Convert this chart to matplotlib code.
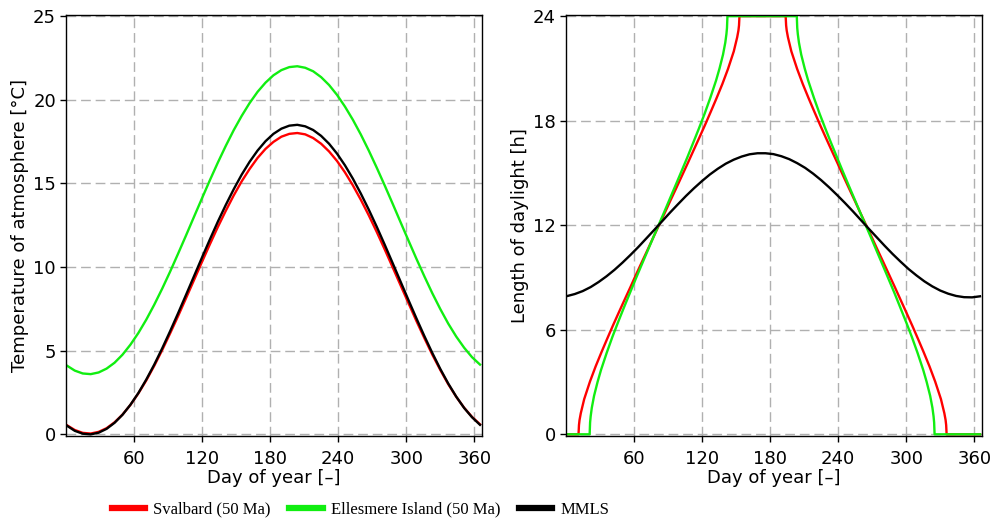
import matplotlib
matplotlib.use("Agg")
import matplotlib.pyplot as plt

# day of year for the temperature curves and the MMLS daylight curve
days = [1, 8, 15, 22, 29, 36, 43, 50, 57, 64, 71, 78, 85, 92, 99, 106, 113,
        120, 127, 134, 141, 148, 155, 162, 169, 176, 183, 190, 197, 204, 211,
        218, 225, 232, 239, 246, 253, 260, 267, 274, 281, 288, 295, 302, 309,
        316, 323, 330, 337, 344, 351, 358, 365]

# temperature of atmosphere [degC]
temp_svalbard = [0.55, 0.26, 0.09, 0.05, 0.15, 0.37, 0.72, 1.18, 1.76, 2.45,
                 3.23, 4.10, 5.04, 6.04, 7.07, 8.14, 9.22, 10.30, 11.36, 12.39,
                 13.36, 14.28, 15.12, 15.86, 16.52, 17.06, 17.48, 17.79, 17.96,
                 18.01, 17.93, 17.71, 17.37, 16.91, 16.34, 15.66, 14.88, 14.02,
                 13.09, 12.10, 11.06, 9.99, 8.91, 7.84, 6.77, 5.75, 4.76, 3.85,
                 3.00, 2.25, 1.59, 1.04, 0.60]
temp_ellesmere = [4.11, 3.81, 3.64, 3.60, 3.70, 3.93, 4.28, 4.76, 5.36, 6.06,
                  6.86, 7.75, 8.71, 9.73, 10.80, 11.89, 13.00, 14.10, 15.19,
                  16.24, 17.24, 18.18, 19.03, 19.80, 20.47, 21.02, 21.46, 21.77,
                  21.95, 22.00, 21.91, 21.70, 21.35, 20.88, 20.29, 19.59, 18.80,
                  17.92, 16.96, 15.94, 14.88, 13.79, 12.68, 11.58, 10.49, 9.44,
                  8.43, 7.49, 6.62, 5.85, 5.18, 4.61, 4.17]
temp_mmls = [0.52, 0.21, 0.04, 0.00, 0.10, 0.33, 0.69, 1.17, 1.77, 2.47, 3.28,
             4.17, 5.14, 6.17, 7.24, 8.34, 9.45, 10.56, 11.65, 12.71, 13.71,
             14.65, 15.52, 16.29, 16.96, 17.52, 17.96, 18.27, 18.45, 18.50,
             18.41, 18.19, 17.84, 17.37, 16.78, 16.08, 15.28, 14.39, 13.43,
             12.41, 11.34, 10.24, 9.13, 8.02, 6.93, 5.87, 4.86, 3.91, 3.04,
             2.26, 1.58, 1.02, 0.57]

# length of daylight [h]
mmls_hours = [7.93, 8.05, 8.22, 8.45, 8.74, 9.07, 9.44, 9.85, 10.29, 10.75,
              11.24, 11.73, 12.23, 12.73, 13.21, 13.68, 14.12, 14.53, 14.91,
              15.24, 15.53, 15.76, 15.94, 16.07, 16.13, 16.13, 16.08, 15.96,
              15.79, 15.56, 15.29, 14.96, 14.59, 14.18, 13.74, 13.28, 12.80,
              12.30, 11.80, 11.31, 10.82, 10.35, 9.91, 9.49, 9.12, 8.78, 8.49,
              8.25, 8.07, 7.94, 7.87, 7.86, 7.92]

sv_days = [1, 11.3, 11.7, 12.2, 13.3, 16.3, 21.4, 26.4, 31.5, 36.6, 41.6, 46.7,
           51.8, 56.9, 61.9, 67.0, 72.1, 77.1, 82.2, 87.3, 92.3, 97.4, 102.5,
           107.6, 112.6, 117.7, 122.8, 127.8, 132.9, 138.0, 143.0, 148.1, 151.1,
           152.2, 152.7, 153.1,
           193.8, 194.2, 194.7, 195.8, 198.8, 203.9, 208.9, 214.0, 219.1, 224.1,
           229.2, 234.3, 239.4, 244.4, 249.5, 254.6, 259.6, 264.7, 269.8, 274.8,
           279.9, 285.0, 290.1, 295.1, 300.2, 305.3, 310.3, 315.4, 320.5, 325.5,
           330.6, 333.6, 334.7, 335.2, 335.6, 365]
sv_hours = [0, 0, 0.53, 0.82, 1.21, 2.02, 3.03, 3.90, 4.71, 5.49, 6.24, 6.98,
            7.71, 8.43, 9.15, 9.87, 10.58, 11.29, 12.0, 12.71, 13.42, 14.13, 14.85,
            15.57, 16.29, 17.02, 17.76, 18.51, 19.29, 20.10, 20.97, 21.98, 22.79,
            23.18, 23.47, 24,
            24, 23.47, 23.18, 22.79, 21.98, 20.97, 20.10, 19.29, 18.51, 17.76,
            17.02, 16.29, 15.57, 14.85, 14.13, 13.42, 12.71, 12.0, 11.29, 10.58,
            9.87, 9.15, 8.43, 7.71, 6.98, 6.24, 5.49, 4.71, 3.90, 3.03,
            2.02, 1.21, 0.82, 0.53, 0, 0]
el_days = [1, 21.1, 21.5, 22.0, 23.0, 25.0, 28.1, 31.1, 36.2, 41.2, 46.3, 51.4,
           56.5, 61.5, 66.6, 71.7, 76.7, 81.8, 86.9, 91.9, 97.0, 102.1, 107.2,
           112.2, 117.3, 122.4, 127.4, 132.5, 135.5, 138.6, 140.6, 141.6, 142.1,
           142.5,
           203.6, 204.0, 204.5, 205.5, 207.5, 210.6, 213.6, 218.7, 223.7, 228.8,
           233.9, 239.0, 244.0, 249.1, 254.2, 259.2, 264.3, 269.4, 274.4, 279.5,
           284.6, 289.7, 294.7, 299.8, 304.9, 309.9, 315.0, 318.0, 321.1, 323.1,
           324.1, 324.6, 325.0, 365]
el_hours = [0, 0, 0.68, 1.03, 1.52, 2.21, 3.01, 3.69, 4.69, 5.60, 6.46, 7.29,
            8.10, 8.89, 9.68, 10.46, 11.23, 12.0, 12.77, 13.54, 14.32, 15.11, 15.90,
            16.71, 17.54, 18.40, 19.31, 20.31, 20.99, 21.79, 22.48, 22.97, 23.32,
            24,
            24, 23.32, 22.97, 22.48, 21.79, 20.99, 20.31, 19.31, 18.40, 17.54,
            16.71, 15.90, 15.11, 14.32, 13.54, 12.77, 12.0, 11.23, 10.46, 9.68,
            8.89, 8.10, 7.29, 6.46, 5.60, 4.69, 3.69, 3.01, 2.21, 1.52,
            1.03, 0.68, 0, 0]

labels = ["Svalbard (50 Ma)", "Ellesmere Island (50 Ma)", "MMLS"]
colors = ["#ff0000", "#11ee11", "#000000"]
x_ticks = [60, 120, 180, 240, 300, 360]

plt.rcParams["font.family"] = "DejaVu Sans"

fig = plt.figure(figsize=(10.08, 5.24), dpi=100)
ax1 = fig.add_axes([0.0652, 0.1685, 0.4127, 0.8034])
ax2 = fig.add_axes([0.5612, 0.1685, 0.4127, 0.8034])

for y, c in zip([temp_svalbard, temp_ellesmere, temp_mmls], colors):
    ax1.plot(days, y, color=c, lw=1.7)

ax2.plot(sv_days, sv_hours, color=colors[0], lw=1.7)
ax2.plot(el_days, el_hours, color=colors[1], lw=1.7)
ax2.plot(days, mmls_hours, color=colors[2], lw=1.7)

ax1.set_ylim(-0.08, 25.08)
ax1.set_yticks([0, 5, 10, 15, 20, 25])
ax1.set_ylabel("Temperature of atmosphere [°C]", fontsize=13, labelpad=3)

ax2.set_ylim(-0.08, 24.08)
ax2.set_yticks([0, 6, 12, 18, 24])
ax2.set_ylabel("Length of daylight [h]", fontsize=13, labelpad=3)

for ax in (ax1, ax2):
    ax.set_xlim(0, 366.5)
    ax.set_xticks(x_ticks)
    ax.set_xlabel("Day of year [–]", fontsize=13, labelpad=1)
    ax.tick_params(direction="out", length=4, width=1, labelsize=13)
    ax.tick_params(axis="x", pad=6)
    ax.tick_params(axis="y", pad=3)
    ax.grid(True, color="#b0b0b0", ls=(0, (7, 3.5)), lw=1)
    ax.set_axisbelow(True)
    for s in ax.spines.values():
        s.set_linewidth(1)

handles = [plt.Line2D([], [], color=c, lw=4.5) for c in colors]
fig.legend(handles, labels, loc="center", bbox_to_anchor=(0.3576, 0.027), ncol=3,
           frameon=False, prop={"family": "Liberation Serif", "size": 12},
           handlelength=2.0, handletextpad=0.5, columnspacing=1.1)

fig.savefig("out.png", dpi=100)
